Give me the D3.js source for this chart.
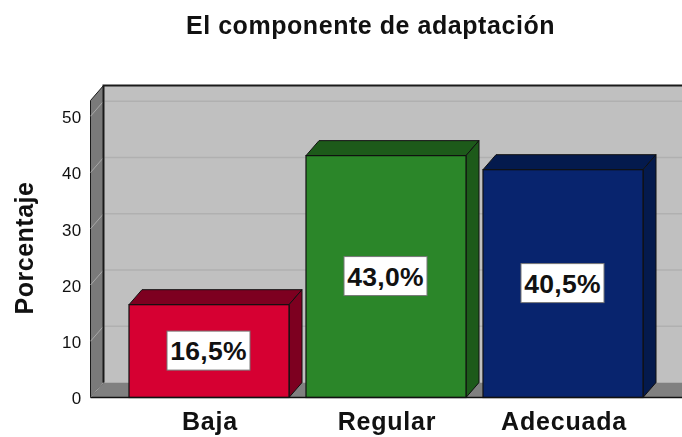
<!DOCTYPE html>
<html>
<head>
<meta charset="utf-8">
<script src="https://cdn.jsdelivr.net/npm/d3@7"></script>
<style>
html, body { margin: 0; padding: 0; background: #fff; }
svg { display: block; filter: blur(0.35px); }
text { font-family: "Liberation Sans", Arial, sans-serif; }
</style>
</head>
<body>
<svg></svg>
<script>
var width = 682;
var height = 437;

var categories = ["Baja", "Regular", "Adecuada"];
var values = [16.5, 43.0, 40.5];
var barColors = ["#d60032", "#2b8629", "#08246e"];
var sideColors = ["#7d0020", "#1d5a1a", "#041a4d"];
var topColors = ["#7d0020", "#1d5a1a", "#041a4d"];
var yTicks = [0, 10, 20, 30, 40, 50];

var dx = 13;   // depth of the 3d box
var dy = 15;

var svg = d3.select("svg")
    .attr("width", width)
    .attr("height", height);

var y = d3.scaleLinear()
    .domain([0, 52.8])
    .range([397.5, 100.5]);

var x = d3.scaleBand()
    .domain(categories)
    .range([120.5, 651.5])
    .paddingInner(0.096)
    .paddingOuter(0.048);

var left = 90.5;
var right = 682;
var base = y(0);
var top3d = y.range()[1] - dy;

// back wall
svg.append("rect")
    .attr("x", left + dx)
    .attr("y", top3d)
    .attr("width", right - left - dx)
    .attr("height", base - dy - top3d)
    .attr("fill", "#c0c0c0");

// floor
svg.append("path")
    .attr("d", d3.line()([[left, base], [left + dx, base - dy], [right, base - dy], [right, base]]))
    .attr("fill", "#808080");

// left wall
svg.append("path")
    .attr("d", d3.line()([[left, base], [left, y.range()[1]], [left + dx, top3d], [left + dx, base - dy]]) + "Z")
    .attr("fill", "#7a7a7a")
    .attr("stroke", "#1a1a1a")
    .attr("stroke-width", 1);

// gridlines, back wall + slanted piece on the side wall
svg.selectAll("line.grid")
    .data(yTicks.slice(1))
    .enter().append("line")
    .attr("class", "grid")
    .attr("x1", left + dx + 1)
    .attr("x2", right)
    .attr("y1", function(d) { return y(d) - dy; })
    .attr("y2", function(d) { return y(d) - dy; })
    .attr("stroke", "#b0b0b0")
    .attr("stroke-width", 1.5);

svg.selectAll("line.gridside")
    .data(yTicks)
    .enter().append("line")
    .attr("class", "gridside")
    .attr("x1", left)
    .attr("x2", left + dx)
    .attr("y1", function(d) { return y(d); })
    .attr("y2", function(d) { return y(d) - dy; })
    .attr("stroke", "#a8a8a8")
    .attr("stroke-width", 1);

// dark edges of the wall
svg.append("path")
    .attr("d", d3.line()([[left + dx, base - dy], [left + dx, top3d], [right, top3d]]))
    .attr("fill", "none")
    .attr("stroke", "#1a1a1a")
    .attr("stroke-width", 2);

// bars
var bars = svg.selectAll("g.bar")
    .data(categories)
    .enter().append("g")
    .attr("class", "bar");

bars.append("path")
    .attr("d", function(d, i) {
        var x0 = x(d), x1 = x(d) + x.bandwidth(), yt = y(values[i]);
        return d3.line()([[x0, yt], [x0 + dx, yt - dy], [x1 + dx, yt - dy], [x1, yt]]) + "Z";
    })
    .attr("fill", function(d, i) { return topColors[i]; })
    .attr("stroke", "#111")
    .attr("stroke-width", 1);

bars.append("path")
    .attr("d", function(d, i) {
        var x1 = x(d) + x.bandwidth(), yt = y(values[i]);
        return d3.line()([[x1, yt], [x1 + dx, yt - dy], [x1 + dx, base - dy], [x1, base]]) + "Z";
    })
    .attr("fill", function(d, i) { return sideColors[i]; })
    .attr("stroke", "#111")
    .attr("stroke-width", 1);

bars.append("rect")
    .attr("x", function(d) { return x(d); })
    .attr("y", function(d, i) { return y(values[i]); })
    .attr("width", x.bandwidth())
    .attr("height", function(d, i) { return base - y(values[i]); })
    .attr("fill", function(d, i) { return barColors[i]; })
    .attr("stroke", "#111")
    .attr("stroke-width", 1.2);

// value labels
var labels = bars.append("g")
    .attr("transform", function(d, i) {
        return "translate(" + (x(d) + x.bandwidth() / 2 - 0.5) + "," + ((y(values[i]) + base) / 2 - 0.5) + ")";
    });

labels.append("rect")
    .attr("x", -41.5)
    .attr("y", -19.5)
    .attr("width", 83)
    .attr("height", 39)
    .attr("fill", "#fff")
    .attr("stroke", "#777")
    .attr("stroke-width", 1);

labels.append("text")
    .attr("text-anchor", "middle")
    .attr("y", 9.5)
    .style("font-size", "26.5px")
    .style("font-weight", "bold")
    .style("letter-spacing", "0.3px")
    .style("fill", "#111")
    .text(function(d, i) { return d3.format(".1f")(values[i]).replace(".", ",") + "%"; });

// axes
var yAxis = svg.append("g")
    .attr("transform", "translate(" + left + ",1)")
    .call(d3.axisLeft(y).tickValues(yTicks).tickSize(0).tickPadding(9).tickFormat(d3.format("d")));
yAxis.select(".domain").remove();
yAxis.selectAll("text")
    .style("font-size", "17px")
    .style("letter-spacing", "0.3px")
    .style("font-family", '"Liberation Sans", Arial, sans-serif')
    .attr("fill", "#111");

var xAxis = svg.append("g")
    .attr("transform", "translate(1," + base + ")")
    .call(d3.axisBottom(x).tickSize(0).tickPadding(15));
xAxis.select(".domain").remove();
xAxis.selectAll("text")
    .style("font-size", "25px")
    .style("font-weight", "bold")
    .style("letter-spacing", "0.8px")
    .style("font-family", '"Liberation Sans", Arial, sans-serif')
    .attr("fill", "#111");

// baseline
svg.append("line")
    .attr("x1", left)
    .attr("x2", right)
    .attr("y1", base)
    .attr("y2", base)
    .attr("stroke", "#111")
    .attr("stroke-width", 1.5);

// titles
svg.append("text")
    .attr("x", 370.5)
    .attr("y", 34)
    .attr("text-anchor", "middle")
    .style("font-size", "25px")
    .style("font-weight", "bold")
    .style("letter-spacing", "0.55px")
    .style("fill", "#111")
    .text("El componente de adaptación");

svg.append("text")
    .attr("transform", "translate(33,248) rotate(-90)")
    .attr("text-anchor", "middle")
    .style("font-size", "25px")
    .style("font-weight", "bold")
    .style("letter-spacing", "0.5px")
    .style("fill", "#111")
    .text("Porcentaje");
</script>
</body>
</html>
